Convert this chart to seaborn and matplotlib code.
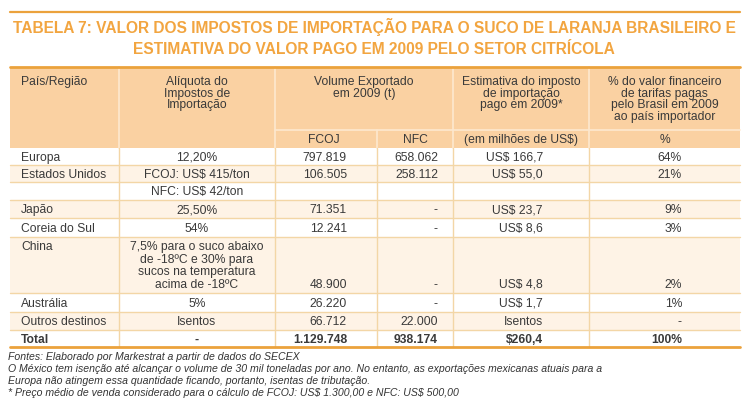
"""
Tabela 7 — impostos de importação sobre o suco de laranja brasileiro (2009)
"""

import matplotlib
matplotlib.use("Agg")
import matplotlib.pyplot as plt
import seaborn as sns


# ─────────────────────────────────────────────
# DADOS
# ─────────────────────────────────────────────
TITULO = [
    "TABELA 7: VALOR DOS IMPOSTOS DE IMPORTAÇÃO PARA O SUCO DE LARANJA BRASILEIRO E",
    "ESTIMATIVA DO VALOR PAGO EM 2009 PELO SETOR CITRÍCOLA",
]

paises = ["Europa", "Estados Unidos", "", "Japão", "Coreia do Sul", "China",
          "Austrália", "Outros destinos", "Total"]
aliquota = ["12,20%", "FCOJ: US$ 415/ton", "NFC: US$ 42/ton", "25,50%", "54%",
            "7,5% para o suco abaixo\nde -18ºC e 30% para\nsucos na temperatura\nacima de -18ºC",
            "5%", "Isentos", "-"]
volume_fcoj = [797819, 106505, None, 71351, 12241, 48900, 26220, 66712, 1129748]
volume_nfc = [658062, 258112, None, 0, 0, 0, 0, 22000, 938174]
imposto = ["US$ 166,7", "US$ 55,0", "", "US$ 23,7", "US$ 8,6", "US$ 4,8",
           "US$ 1,7", "Isentos", "$260,4"]
percentual = [64, 21, None, 9, 3, 2, 1, 0, 100]

cabecalho = [
    "País/Região",
    "Alíquota do\nImpostos de\nImportação",
    "Volume Exportado\nem 2009 (t)",
    "Estimativa do imposto\nde importação\npago em 2009*",
    "% do valor financeiro\nde tarifas pagas\npelo Brasil em 2009\nao país importador",
]
subcabecalho = ["FCOJ", "NFC", "(em milhões de US$)", "%"]

notas = [
    "Fontes: Elaborado por Markestrat a partir de dados do SECEX",
    "O México tem isenção até alcançar o volume de 30 mil toneladas por ano. No entanto, as exportações mexicanas atuais para a",
    "Europa não atingem essa quantidade ficando, portanto, isentas de tributação.",
    "* Preço médio de venda considerado para o cálculo de FCOJ: US$ 1.300,00 e NFC: US$ 500,00",
]


# ─────────────────────────────────────────────
# LAYOUT / ESTILO
# ─────────────────────────────────────────────
COLUNAS = [10, 119, 275, 377, 453, 589, 740]
ALTURAS = [17, 17, 18, 18, 19, 56, 19, 18, 17]
TOPO_TAB, FIM_CAB, LINHA_SUB = 67, 148, 129.5

LARANJA = "#EBA23C"
COR_TITULO = "#F2A540"
COR_CAB = "#FAD1A2"
CREME = "#FEF3E6"
COR_LINHA = "#F3D6A6"
TEXTO = "#3A3A3A"
TAM = 8.7
MEIA_CAPS = 4.3          # metade da altura das maiúsculas (px) no TAM
FONTE = ["Liberation Sans", "DejaVu Sans"]


def milhar(v):
    if v is None:
        return ""
    if v == 0:
        return "-"
    return f"{v:,}".replace(",", ".")


def pct(v):
    if v is None:
        return ""
    return "-" if v == 0 else f"{v}%"


def escreve(ax, x, yc, s, ha="center", dy=11.8, **kw):
    # yc = centro vertical das maiúsculas da 1ª linha
    for i, linha in enumerate(s.split("\n")):
        ax.text(x, yc + MEIA_CAPS + i * dy, linha, ha=ha, va="baseline",
                fontsize=TAM, color=TEXTO, parse_math=False, **kw)


def main():
    sns.set_theme(style="white")
    plt.rcParams["font.family"] = FONTE

    fig = plt.figure(figsize=(7.47, 4.07), dpi=100)
    ax = fig.add_axes([0, 0, 1, 1])
    ax.set_xlim(0, 747)
    ax.set_ylim(407, 0)
    ax.axis("off")

    # título
    ax.plot([10, 740], [12, 12], color=LARANJA, lw=1.6)
    for i, t in enumerate(TITULO):
        ax.text(374, 32.5 + i * 21, t, ha="center", va="baseline",
                fontsize=11.2, fontweight="bold", color=COR_TITULO,
                parse_math=False)

    # cabeçalho
    ax.fill_between([COLUNAS[0], COLUNAS[-1]], TOPO_TAB, FIM_CAB, color=COR_CAB, lw=0)
    ax.plot([COLUNAS[2], COLUNAS[-1]], [LINHA_SUB, LINHA_SUB], color="#FDE8CF", lw=1.2)
    for x in COLUNAS[1:-1]:
        y0 = LINHA_SUB if x == COLUNAS[3] else TOPO_TAB
        ax.plot([x, x], [y0, FIM_CAB], color="#FDE8CF", lw=1.2)

    centros = [(a + b) / 2 for a, b in zip(COLUNAS[:-1], COLUNAS[1:])]
    escreve(ax, 21, 80.5, cabecalho[0], ha="left")
    escreve(ax, centros[1], 80.5, cabecalho[1])
    escreve(ax, (COLUNAS[2] + COLUNAS[4]) / 2, 80.5, cabecalho[2])
    escreve(ax, centros[4], 80.5, cabecalho[3])
    escreve(ax, centros[5], 80.5, cabecalho[4])
    for x, s in zip([324, centros[3], centros[4], centros[5]], subcabecalho):
        escreve(ax, x, 139, s)

    # linhas da tabela
    y = FIM_CAB
    for i, h in enumerate(ALTURAS):
        if i % 2 == 1:
            ax.fill_between([COLUNAS[0], COLUNAS[-1]], y, y + h, color=CREME, lw=0)
        if i > 0:
            ax.plot([COLUNAS[0], COLUNAS[-1]], [y, y], color=COR_LINHA, lw=1)

        peso = "bold" if paises[i] == "Total" else "normal"
        yc = y + h / 2
        if "\n" in aliquota[i]:
            y1 = y + 9
            yb = y1 + 3 * 12.5
            escreve(ax, 21, y1, paises[i], ha="left", fontweight=peso)
            escreve(ax, centros[1], y1, aliquota[i], dy=12.5)
        else:
            yb = yc
            escreve(ax, 21, yc, paises[i], ha="left", fontweight=peso)
            escreve(ax, centros[1], yc, aliquota[i], fontweight=peso)
        escreve(ax, 347, yb, milhar(volume_fcoj[i]), ha="right", fontweight=peso)
        escreve(ax, 438, yb, milhar(volume_nfc[i]), ha="right", fontweight=peso)
        escreve(ax, 543, yb, imposto[i], ha="right", fontweight=peso)
        escreve(ax, 682, yb, pct(percentual[i]), ha="right", fontweight=peso)
        y += h

    for x in COLUNAS[1:-1]:
        ax.plot([x, x], [FIM_CAB, y], color=COR_LINHA, lw=1)

    ax.plot([COLUNAS[0], COLUNAS[-1]], [TOPO_TAB, TOPO_TAB], color=LARANJA, lw=2)
    ax.plot([COLUNAS[0], COLUNAS[-1]], [y, y], color=LARANJA, lw=2)

    # notas
    for i, n in enumerate(notas):
        ax.text(8, 359.5 + i * 12, n, ha="left", va="baseline",
                fontsize=7.6, style="italic", color="#333333", parse_math=False)

    fig.savefig("out.png", dpi=100)
    plt.close(fig)


if __name__ == "__main__":
    main()
